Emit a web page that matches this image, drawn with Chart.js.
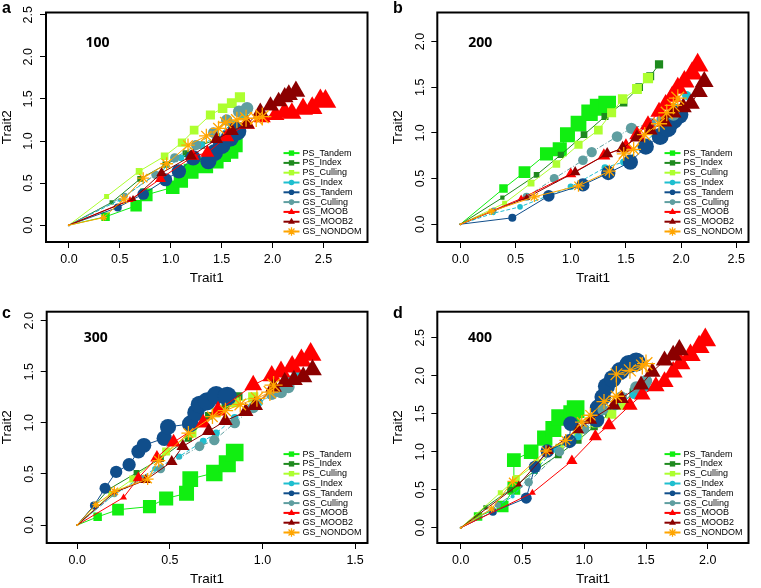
<!DOCTYPE html>
<html>
<head>
<meta charset="utf-8">
<script src="https://cdn.jsdelivr.net/npm/chart.js@4.4.1/dist/chart.umd.min.js"></script>
<style>
  html, body { margin: 0; padding: 0; background: #fff; }
  #wrap { position: relative; width: 761px; height: 588px; overflow: hidden; }
  canvas { position: absolute; }
</style>
</head>
<body>
<div id="wrap">
  <canvas id="pa" width="380" height="290" style="left:0;top:0"></canvas>
  <canvas id="pb" width="381" height="290" style="left:380px;top:0"></canvas>
  <canvas id="pc" width="380" height="298" style="left:0;top:290px"></canvas>
  <canvas id="pd" width="381" height="298" style="left:380px;top:290px"></canvas>
</div>
<script>
// ---- data ----
const seriesNames = ["PS_Tandem", "PS_Index", "PS_Culling", "GS_Index", "GS_Tandem", "GS_Culling", "GS_MOOB", "GS_MOOB2", "GS_NONDOM"];
const panelLabels = ["100", "200", "300", "400"];
const panelLetters = ["a", "b", "c", "d"];

const ticksX100 = [0, 0.5, 1, 1.5, 2, 2.5];
const ticksY100 = [0, 0.5, 1, 1.5, 2, 2.5];
const ticksX200 = [0, 0.5, 1, 1.5, 2, 2.5];
const ticksY200 = [0, 0.5, 1, 1.5, 2];
const ticksX300 = [0, 0.5, 1, 1.5];
const ticksY300 = [0, 0.5, 1, 1.5, 2];
const ticksX400 = [0, 0.5, 1, 1.5, 2];
const ticksY400 = [0, 0.5, 1, 1.5, 2, 2.5];

// Trait1 / Trait2 per series, in seriesNames order
const trait1_100 = [
  [0, 0.36, 0.66, 0.76, 1.02, 1.1, 1.2, 1.34, 1.44, 1.51, 1.58, 1.62],
  [0, 0.42, 0.7, 0.95, 1.15, 1.3, 1.45, 1.58, 1.65],
  [0, 0.37, 0.69, 0.94, 1.11, 1.23, 1.39, 1.51, 1.6, 1.68],
  [0, 0.5, 0.85, 1.1, 1.3, 1.45, 1.6, 1.72],
  [0, 0.48, 0.73, 0.95, 1.08, 1.22, 1.37, 1.43, 1.5, 1.58, 1.65],
  [0, 0.55, 0.85, 1.04, 1.25, 1.42, 1.55, 1.67, 1.75],
  [0, 0.6, 0.9, 1.22, 1.36, 1.55, 1.75, 1.9, 2.03, 2.12, 2.19, 2.3, 2.39, 2.47, 2.52],
  [0, 0.63, 0.91, 1.2, 1.45, 1.6, 1.75, 1.88, 1.98, 2.06, 2.12, 2.16, 2.23],
  [0, 0.34, 0.54, 0.73, 0.96, 1.17, 1.35, 1.47, 1.54, 1.65, 1.74, 1.84, 1.9]
];
const trait2_100 = [
  [0, 0.1, 0.23, 0.36, 0.45, 0.53, 0.64, 0.71, 0.77, 0.85, 0.89, 0.97],
  [0, 0.27, 0.55, 0.72, 0.85, 0.95, 1.02, 1.1, 1.16],
  [0, 0.34, 0.64, 0.82, 0.98, 1.13, 1.31, 1.39, 1.45, 1.52],
  [0, 0.3, 0.6, 0.8, 0.95, 1.06, 1.2, 1.3],
  [0, 0.21, 0.37, 0.54, 0.64, 0.8, 0.76, 0.86, 0.95, 1.04, 1.12],
  [0, 0.35, 0.6, 0.8, 0.95, 1.1, 1.25, 1.35, 1.39],
  [0, 0.3, 0.55, 0.82, 0.86, 1.05, 1.2, 1.28, 1.31, 1.35, 1.33, 1.38, 1.39, 1.48, 1.47],
  [0, 0.31, 0.62, 0.82, 1.02, 1.12, 1.2, 1.35, 1.42, 1.47, 1.52, 1.55, 1.59],
  [0, 0.09, 0.31, 0.56, 0.73, 0.95, 1.06, 1.15, 1.22, 1.25, 1.27, 1.27, 1.29]
];

const trait1_200 = [
  [0, 0.39, 0.58, 0.78, 0.9, 0.97, 1.07, 1.17, 1.25, 1.33],
  [0, 0.38, 0.69, 0.91, 1.12, 1.31, 1.48, 1.62, 1.72, 1.8],
  [0, 0.4, 0.64, 0.87, 1.07, 1.25, 1.37, 1.47, 1.6, 1.7],
  [0, 0.3, 0.54, 1.0, 1.31, 1.48, 1.64, 1.76, 1.86, 1.95, 2.05],
  [0, 0.47, 0.8, 1.11, 1.34, 1.54, 1.68, 1.81, 1.88, 1.93, 1.98],
  [0, 0.3, 0.6, 0.85, 1.11, 1.19, 1.42, 1.55, 1.72, 1.83, 1.93],
  [0, 0.55, 1.0, 1.3, 1.5, 1.6, 1.7, 1.8, 1.86, 1.92, 1.97, 2.03, 2.1, 2.15],
  [0, 0.6, 1.04, 1.33, 1.47, 1.6, 1.72, 1.85, 1.93, 2.02, 2.09, 2.16, 2.21],
  [0, 0.28, 0.67, 1.07, 1.35, 1.48, 1.57, 1.67, 1.8, 1.87, 1.93, 1.97]
];
const trait2_200 = [
  [0, 0.39, 0.57, 0.77, 0.82, 0.98, 1.1, 1.22, 1.28, 1.31],
  [0, 0.29, 0.54, 0.76, 0.98, 1.18, 1.33, 1.5, 1.62, 1.75],
  [0, 0.23, 0.45, 0.66, 0.87, 1.03, 1.22, 1.37, 1.48, 1.6],
  [0, 0.12, 0.19, 0.41, 0.62, 0.68, 0.85, 1.0, 1.13, 1.27, 1.41],
  [0, 0.07, 0.31, 0.43, 0.56, 0.68, 0.85, 0.96, 1.05, 1.14, 1.2],
  [0, 0.15, 0.3, 0.5, 0.7, 0.79, 0.96, 1.05, 1.1, 1.14, 1.2],
  [0, 0.28, 0.55, 0.75, 0.85, 0.98, 1.09, 1.23, 1.31, 1.4, 1.49, 1.56, 1.65, 1.74],
  [0, 0.29, 0.57, 0.77, 0.83, 0.95, 1.03, 1.12, 1.22, 1.28, 1.32, 1.45, 1.56],
  [0, 0.14, 0.3, 0.42, 0.58, 0.77, 0.82, 0.98, 1.1, 1.22, 1.3, 1.38]
];

const trait1_300 = [
  [0, 0.11, 0.22, 0.39, 0.48, 0.59, 0.61, 0.74, 0.81, 0.85],
  [0, 0.17, 0.32, 0.45, 0.6, 0.71, 0.8, 0.87],
  [0, 0.18, 0.3, 0.48, 0.62, 0.75, 0.85, 0.95],
  [0, 0.2, 0.42, 0.55, 0.68, 0.75, 0.85, 0.98, 1.08, 1.15, 1.18],
  [0, 0.09, 0.15, 0.21, 0.28, 0.33, 0.36, 0.47, 0.49, 0.61, 0.64, 0.66, 0.7, 0.75, 0.81],
  [0, 0.2, 0.35, 0.45, 0.66, 0.74, 0.85, 0.95, 1.05, 1.1, 1.14],
  [0, 0.25, 0.33, 0.43, 0.52, 0.68, 0.76, 0.95, 1.05, 1.1, 1.16, 1.21, 1.26],
  [0, 0.2, 0.37, 0.51, 0.57, 0.71, 0.8, 0.91, 0.96, 1.06, 1.12, 1.17, 1.22, 1.27],
  [0, 0.1, 0.2, 0.38, 0.44, 0.6, 0.73, 0.8, 0.88, 0.97, 1.04, 1.06]
];
const trait2_300 = [
  [0, 0.08, 0.15, 0.18, 0.26, 0.31, 0.45, 0.51, 0.6, 0.71],
  [0, 0.35, 0.51, 0.65, 0.85, 1.07, 1.17, 1.26],
  [0, 0.3, 0.45, 0.72, 0.9, 1.1, 1.2, 1.25],
  [0, 0.3, 0.55, 0.67, 0.82, 0.9, 1.05, 1.2, 1.3, 1.42, 1.5],
  [0, 0.19, 0.36, 0.52, 0.59, 0.72, 0.78, 0.85, 0.96, 0.99, 1.1, 1.18, 1.21, 1.27, 1.26],
  [0, 0.3, 0.45, 0.55, 0.77, 0.83, 1.0, 1.15, 1.28, 1.3, 1.35],
  [0, 0.27, 0.46, 0.66, 0.81, 1.0, 1.12, 1.37, 1.46, 1.5, 1.55, 1.61, 1.67],
  [0, 0.32, 0.44, 0.62, 0.77, 0.92, 1.02, 1.11, 1.17, 1.35, 1.4, 1.42, 1.45, 1.52],
  [0, 0.2, 0.33, 0.45, 0.63, 0.9, 1.06, 1.12, 1.18, 1.24, 1.3, 1.37]
];

const trait1_400 = [
  [0, 0.14, 0.34, 0.43, 0.43, 0.57, 0.68, 0.75, 0.8, 0.9, 0.93],
  [0, 0.2, 0.4, 0.6, 0.79, 0.95, 1.08, 1.2, 1.3, 1.4],
  [0, 0.32, 0.45, 0.62, 0.8, 0.95, 1.1, 1.22, 1.3],
  [0, 0.42, 0.6, 0.76, 0.95, 1.08, 1.25, 1.4, 1.5],
  [0, 0.26, 0.53, 0.6, 0.7, 0.88, 0.89, 1.1, 1.11, 1.15, 1.18, 1.23, 1.29, 1.36, 1.42],
  [0, 0.3, 0.55, 0.8, 1.0, 1.15, 1.3, 1.42, 1.5],
  [0, 0.58, 0.9, 1.09, 1.2, 1.37, 1.47, 1.58, 1.65, 1.72, 1.78, 1.86, 1.93, 1.98],
  [0, 0.47, 0.71, 0.95, 1.05, 1.24, 1.3, 1.46, 1.55, 1.65, 1.72, 1.77],
  [0, 0.25, 0.42, 0.69, 0.85, 0.98, 1.05, 1.16, 1.26, 1.26, 1.37, 1.47, 1.5]
];
const trait2_400 = [
  [0, 0.15, 0.28, 0.52, 0.89, 1.0, 1.18, 1.3, 1.45, 1.5, 1.56],
  [0, 0.27, 0.5, 0.75, 0.96, 1.15, 1.33, 1.5, 1.63, 1.78],
  [0, 0.46, 0.65, 0.85, 1.05, 1.22, 1.38, 1.5, 1.62],
  [0, 0.41, 0.75, 1.03, 1.2, 1.4, 1.6, 1.75, 1.85],
  [0, 0.21, 0.39, 0.8, 1.01, 1.14, 1.37, 1.42, 1.58, 1.72, 1.86, 1.96, 2.06, 2.15, 2.18],
  [0, 0.3, 0.6, 1.0, 1.3, 1.55, 1.72, 1.85, 1.93],
  [0, 0.46, 0.88, 1.2, 1.35, 1.61, 1.75, 1.86, 1.92, 2.05, 2.16, 2.27, 2.38, 2.47],
  [0, 0.57, 1.01, 1.29, 1.42, 1.61, 1.7, 1.88, 2.05, 2.2, 2.27, 2.34],
  [0, 0.25, 0.61, 1.01, 1.15, 1.39, 1.48, 1.66, 1.73, 2.02, 2.07, 2.13, 2.16]
];

// ---- styles ----
const FONT = "'Liberation Sans', Arial, Helvetica, sans-serif";
const seriesStyle = [
  { color: "#11ee11", shape: "rect", r0: 6, r1: 12.5, legendR: 3.8, dash: [] },
  { color: "#1e8a1e", shape: "rect", r0: 3, r1: 5.8, legendR: 3.8, dash: [] },
  { color: "#adff2f", shape: "rect", r0: 3.5, r1: 7.2, legendR: 3.8, dash: [] },
  { color: "#1fbfcf", shape: "circle", r0: 2, r1: 4.5, legendR: 2.8, dash: [4, 2] },
  { color: "#104e8b", shape: "circle", r0: 4, r1: 9.5, legendR: 2.8, dash: [] },
  { color: "#5f9ea0", shape: "circle", r0: 3, r1: 6.2, legendR: 2.8, dash: [5, 2, 1, 2] },
  { color: "#ff0000", shape: "triangle", r0: 4, r1: 12.5, legendR: 4, dash: [] },
  { color: "#8b0000", shape: "triangle", r0: 4, r1: 10.8, legendR: 4, dash: [] },
  { color: "#ffa500", shape: "star", r0: 3.5, r1: 9, legendR: 4.2, dash: [] }
];

// marker size grows along the path, R-style cex
const radiusAt = (i, n, s) =>
  i === 0 ? 1 : s.r0 + (s.r1 - s.r0) * Math.sqrt((i - 1) / Math.max(1, n - 2));

const makeDatasets = (xs, ys) =>
  seriesNames.map((name, k) => {
    const s = seriesStyle[k];
    const n = xs[k].length;
    return {
      label: name,
      data: xs[k].map((x, i) => ({ x, y: ys[k][i] })),
      showLine: true,
      borderColor: s.color,
      backgroundColor: s.color,
      borderWidth: 1,
      borderDash: s.dash,
      pointStyle: s.shape,
      pointRadius: (ctx) => radiusAt(ctx.dataIndex, n, s),
      pointHoverRadius: (ctx) => radiusAt(ctx.dataIndex, n, s),
      pointBackgroundColor: s.color,
      pointBorderColor: s.color,
      pointBorderWidth: s.shape === "star" ? 1.3 : 0,
      order: seriesNames.length - k,
    };
  });

const drawMark = (ctx, s, r, x, y) => {
  ctx.fillStyle = s.color;
  ctx.strokeStyle = s.color;
  ctx.lineWidth = 1.3;
  if (window.Chart && Chart.helpers && Chart.helpers.drawPoint) {
    Chart.helpers.drawPoint(ctx, { pointStyle: s.shape, radius: r, rotation: 0, borderWidth: s.shape === "star" ? 1.3 : 0 }, x, y);
  } else {
    ctx.beginPath();
    ctx.arc(x, y, r, 0, Math.PI * 2);
    ctx.fill();
  }
};

const makePlugin = (p) => ({
  id: "rPlot",
  afterDraw(chart) {
    const { ctx, chartArea: a, scales } = chart;
    ctx.save();
    ctx.setLineDash([]);
    ctx.strokeStyle = "#000";
    ctx.lineWidth = 2;
    ctx.strokeRect(a.left, a.top, a.right - a.left, a.bottom - a.top);

    ctx.fillStyle = "#000";
    ctx.font = "12.5px " + FONT;
    ctx.textAlign = "center";
    ctx.textBaseline = "middle";
    p.yTicks.forEach((v) => {
      ctx.save();
      ctx.translate(a.left - 17, scales.y.getPixelForValue(v));
      ctx.rotate(-Math.PI / 2);
      ctx.fillText(v.toFixed(1), 0, 0);
      ctx.restore();
    });

    ctx.font = "13.5px " + FONT;
    ctx.fillText("Trait1", (a.left + a.right) / 2, a.bottom + 36.5);
    ctx.save();
    ctx.translate(a.left - 39, (a.top + a.bottom) / 2);
    ctx.rotate(-Math.PI / 2);
    ctx.fillText("Trait2", 0, 0);
    ctx.restore();

    ctx.font = "bold 16px " + FONT;
    ctx.textAlign = "left";
    ctx.textBaseline = "alphabetic";
    ctx.fillText(p.letter, p.letterAt[0], p.letterAt[1]);

    ctx.font = "bold 14px 'Open Sans', 'DejaVu Sans', sans-serif";
    ctx.textAlign = "center";
    ctx.textBaseline = "middle";
    ctx.fillText(p.label, scales.x.getPixelForValue(p.labelAt[0]), scales.y.getPixelForValue(p.labelAt[1]));

    // legend, R style without box
    seriesNames.forEach((name, k) => {
      const s = seriesStyle[k];
      const y = a.bottom - 10.5 - (seriesNames.length - 1 - k) * 9.8;
      ctx.strokeStyle = s.color;
      ctx.lineWidth = 2;
      ctx.beginPath();
      ctx.moveTo(a.right - 84, y);
      ctx.lineTo(a.right - 68, y);
      ctx.stroke();
      drawMark(ctx, s, s.legendR, a.right - 76, y);
      ctx.fillStyle = "#000";
      ctx.font = "9px " + FONT;
      ctx.textAlign = "left";
      ctx.textBaseline = "middle";
      ctx.fillText(name, a.right - 65, y);
    });
    ctx.restore();
  },
});

const panels = [
  { id: "pa", xs: trait1_100, ys: trait2_100, xTicks: ticksX100, yTicks: ticksY100,
    xRange: [-0.225, 2.933], yRange: [-0.2, 2.527], pad: { left: 0, top: 10, right: 11, bottom: 0 },
    yWidth: 46, xHeight: 48, letterAt: [2, 13], labelAt: [0.28, 2.17] },
  { id: "pb", xs: trait1_200, ys: trait2_200, xTicks: ticksX200, yTicks: ticksY200,
    xRange: [-0.21, 2.611], yRange: [-0.195, 2.318], pad: { left: 0, top: 10, right: 1.5, bottom: 0 },
    yWidth: 57.3, xHeight: 48, letterAt: [13, 13], labelAt: [0.18, 1.98] },
  { id: "pc", xs: trait1_300, ys: trait2_300, xTicks: ticksX300, yTicks: ticksY300,
    xRange: [-0.165, 1.567], yRange: [-0.176, 2.088], pad: { left: 0, top: 21.7, right: 11, bottom: 0 },
    yWidth: 46.7, xHeight: 45, letterAt: [2, 28], labelAt: [0.1, 1.83] },
  { id: "pd", xs: trait1_400, ys: trait2_400, xTicks: ticksX400, yTicks: ticksY400,
    xRange: [-0.19, 2.33], yRange: [-0.2, 2.842], pad: { left: 0, top: 21.7, right: 1.5, bottom: 0 },
    yWidth: 57.3, xHeight: 45, letterAt: [13, 28], labelAt: [0.155, 2.5] }
];

panels.forEach((p, idx) => {
  p.letter = panelLetters[idx];
  p.label = panelLabels[idx];
  new Chart(document.getElementById(p.id), {
    type: "scatter",
    data: { datasets: makeDatasets(p.xs, p.ys) },
    options: {
      responsive: false,
      devicePixelRatio: 1,
      animation: false,
      layout: { padding: p.pad },
      plugins: { legend: { display: false }, tooltip: { enabled: false } },
      scales: {
        x: {
          type: "linear",
          min: p.xRange[0],
          max: p.xRange[1],
          afterBuildTicks: (s) => { s.ticks = p.xTicks.map((v) => ({ value: v })); },
          afterFit: (s) => { s.height = p.xHeight; },
          grid: { display: true, drawOnChartArea: false, drawTicks: true, tickLength: 6, color: "#000" },
          border: { display: false },
          ticks: { color: "#000", font: { family: FONT, size: 12.5 }, padding: 4, maxRotation: 0, autoSkip: false,
                   callback: (v) => Number(v).toFixed(1) },
        },
        y: {
          type: "linear",
          min: p.yRange[0],
          max: p.yRange[1],
          afterBuildTicks: (s) => { s.ticks = p.yTicks.map((v) => ({ value: v })); },
          afterFit: (s) => { s.width = p.yWidth; },
          grid: { display: true, drawOnChartArea: false, drawTicks: true, tickLength: 6, color: "#000" },
          border: { display: false },
          ticks: { display: false },
        },
      },
    },
    plugins: [makePlugin(p)],
  });
});
</script>
</body>
</html>
